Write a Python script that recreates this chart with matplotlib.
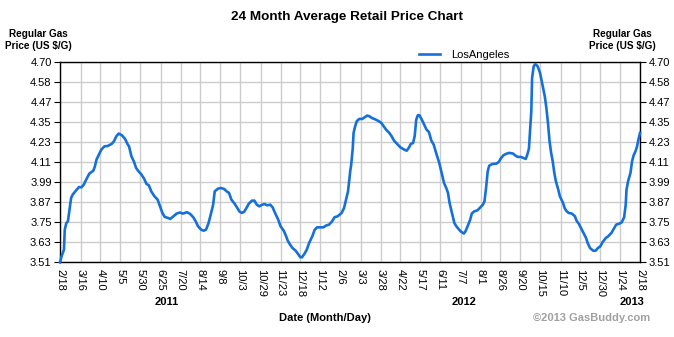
import matplotlib
matplotlib.use("Agg")
import matplotlib.pyplot as plt
import pandas as pd

# Average regular gas price, Los Angeles (days since 2011-02-18, $/gal)
days = [0, 2, 5, 6, 8, 10, 12, 14, 16, 21,
        24, 27, 30, 33, 37, 42, 44, 46, 49, 52,
        56, 60, 65, 68, 71, 74, 78, 82, 85, 87,
        90, 93, 96, 99, 102, 106, 109, 112, 115, 119,
        123, 126, 129, 132, 136, 139, 143, 147, 151, 155,
        160, 164, 168, 171, 174, 178, 181, 184, 187, 190,
        193, 195, 199, 203, 207, 210, 213, 216, 220, 223,
        226, 229, 232, 235, 238, 242, 245, 248, 251, 255,
        258, 261, 265, 268, 271, 275, 278, 282, 285, 287,
        290, 293, 297, 300, 303, 305, 308, 311, 314, 318,
        321, 324, 328, 332, 335, 339, 343, 346, 350, 355,
        358, 360, 363, 365, 366, 367, 369, 370, 372, 374,
        377, 381, 384, 387, 390, 393, 398, 402, 405, 408,
        411, 415, 418, 421, 425, 429, 434, 437, 440, 442,
        445, 447, 449, 451, 453, 456, 459, 462, 465, 468,
        471, 474, 478, 481, 484, 487, 489, 491, 493, 495,
        497, 499, 502, 505, 509, 511, 514, 517, 519, 522,
        526, 529, 533, 535, 537, 539, 541, 545, 550, 553,
        556, 559, 562, 566, 571, 574, 577, 581, 584, 587,
        589, 591, 594, 595, 597, 599, 602, 605, 608, 611,
        613, 615, 617, 619, 621, 623, 625, 628, 630, 632,
        634, 636, 638, 641, 645, 649, 651, 654, 657, 660,
        663, 665, 668, 672, 675, 678, 681, 684, 688, 691,
        695, 698, 701, 705, 708, 711, 713, 714, 716, 719,
        721, 723, 725, 727, 729, 731]
prices = [3.510, 3.546, 3.585, 3.704, 3.744, 3.754, 3.823, 3.893, 3.913, 3.942,
          3.958, 3.956, 3.972, 4.002, 4.038, 4.055, 4.081, 4.121, 4.151, 4.180,
          4.200, 4.202, 4.214, 4.230, 4.260, 4.276, 4.266, 4.244, 4.214, 4.200,
          4.141, 4.111, 4.071, 4.051, 4.036, 4.008, 3.976, 3.968, 3.932, 3.903,
          3.883, 3.843, 3.804, 3.780, 3.774, 3.768, 3.784, 3.800, 3.806, 3.800,
          3.808, 3.798, 3.778, 3.754, 3.724, 3.704, 3.698, 3.704, 3.740, 3.794,
          3.853, 3.932, 3.948, 3.952, 3.946, 3.932, 3.923, 3.883, 3.859, 3.837,
          3.813, 3.804, 3.810, 3.833, 3.859, 3.877, 3.877, 3.853, 3.843, 3.853,
          3.857, 3.849, 3.853, 3.837, 3.804, 3.764, 3.724, 3.698, 3.665, 3.639,
          3.615, 3.595, 3.579, 3.560, 3.540, 3.540, 3.560, 3.585, 3.625, 3.665,
          3.704, 3.718, 3.718, 3.718, 3.728, 3.734, 3.754, 3.778, 3.784, 3.804,
          3.833, 3.873, 3.932, 4.020, 4.060, 4.090, 4.190, 4.280, 4.319, 4.349,
          4.363, 4.363, 4.373, 4.383, 4.379, 4.369, 4.359, 4.349, 4.339, 4.319,
          4.299, 4.280, 4.260, 4.234, 4.214, 4.194, 4.180, 4.174, 4.194, 4.214,
          4.220, 4.260, 4.359, 4.385, 4.385, 4.359, 4.329, 4.299, 4.285, 4.234,
          4.210, 4.161, 4.101, 4.042, 3.982, 3.950, 3.923, 3.863, 3.823, 3.784,
          3.744, 3.728, 3.710, 3.694, 3.681, 3.694, 3.728, 3.764, 3.800, 3.813,
          3.819, 3.833, 3.853, 3.873, 3.952, 4.051, 4.085, 4.095, 4.097, 4.107,
          4.131, 4.147, 4.155, 4.161, 4.157, 4.145, 4.137, 4.137, 4.131, 4.125,
          4.151, 4.186, 4.409, 4.607, 4.676, 4.690, 4.676, 4.637, 4.567, 4.498,
          4.428, 4.339, 4.230, 4.161, 4.111, 4.042, 3.992, 3.942, 3.903, 3.883,
          3.863, 3.833, 3.817, 3.804, 3.800, 3.784, 3.758, 3.738, 3.710, 3.681,
          3.655, 3.625, 3.595, 3.579, 3.579, 3.595, 3.605, 3.631, 3.655, 3.665,
          3.685, 3.710, 3.734, 3.740, 3.748, 3.778, 3.853, 3.942, 3.992, 4.042,
          4.111, 4.147, 4.167, 4.194, 4.240, 4.280]

start_date = "2011-02-18"
end_date = "2013-02-18"
tick_dates = ["2011-02-18", "2011-03-16", "2011-04-10", "2011-05-05", "2011-05-30",
              "2011-06-25", "2011-07-20", "2011-08-14", "2011-09-08", "2011-10-03",
              "2011-10-29", "2011-11-23", "2011-12-18", "2012-01-12", "2012-02-06",
              "2012-03-03", "2012-03-28", "2012-04-22", "2012-05-17", "2012-06-11",
              "2012-07-07", "2012-08-01", "2012-08-26", "2012-09-20", "2012-10-15",
              "2012-11-10", "2012-12-05", "2012-12-30", "2013-01-24", "2013-02-18"]
y_ticks = [3.51, 3.63, 3.75, 3.87, 3.99, 4.11, 4.23, 4.35, 4.47, 4.58, 4.70]
series_name = "LosAngeles"

plt.rcParams["font.family"] = ["Liberation Sans", "DejaVu Sans"]

W, H = 674, 337
fig = plt.figure(figsize=(W / 100, H / 100), dpi=100)
fig.patch.set_facecolor("white")

x0, x1, ytop, ybot = 60, 640, 62.3, 262.3
ax = fig.add_axes([x0 / W, 1 - ybot / H, (x1 - x0) / W, (ybot - ytop) / H])

start = pd.Timestamp(start_date)
dates = [start + pd.Timedelta(days=d) for d in days]
line_color = "#1570dc"
ax.plot(dates, prices, color=line_color, lw=1.9, solid_joinstyle="round", zorder=3,
        label=series_name, clip_on=False)

ax.set_xlim(start, pd.Timestamp(end_date))
ymin, ymax = y_ticks[0], y_ticks[-1]
ax.set_ylim(ymin, ymax)

# evenly spaced horizontal gridlines, labelled with the rounded values
ypos = [ymin + (ymax - ymin) * i / (len(y_ticks) - 1) for i in range(len(y_ticks))]
ax.set_yticks(ypos)
ax.set_yticklabels([f"{v:.2f}" for v in y_ticks])
ax.tick_params(axis="y", which="both", direction="out", length=4, width=0.8,
               labelsize=8, pad=2, left=True, right=True, labelleft=True,
               labelright=True, colors="black")

tick_ts = [pd.Timestamp(t) for t in tick_dates]
ax.set_xticks(tick_ts)
ax.set_xticklabels([f"{t.month}/{t.day}" for t in tick_ts], rotation=270,
                   fontsize=8, va="top", ha="center")
ax.tick_params(axis="x", length=0, pad=5)

ax.grid(True, color="#cccccc", lw=1.0, zorder=0)
ax.set_axisbelow(True)
for s in ax.spines.values():
    s.set_color("black")
    s.set_linewidth(1.0)

# year labels under the dates
for label, xp in [("2011", 167), ("2012", 464), ("2013", 632)]:
    fig.text(xp / W, 1 - 302 / H, label, ha="center", va="center",
             fontsize=8, fontweight="bold")

fig.text(325 / W, 1 - 318 / H, "Date (Month/Day)", ha="center", va="center",
         fontsize=8, fontweight="bold")
fig.text(592 / W, 1 - 318 / H, "\u00a92013 GasBuddy.com", ha="center", va="center",
         fontsize=8, fontweight="bold", color="#a0a0a0")

fig.text(347 / W, 1 - 17 / H, "24 Month Average Retail Price Chart", ha="center",
         va="center", fontsize=9.7, fontweight="bold")

for xp in (38, 622):
    fig.text(xp / W, 1 - 40 / H, "Regular Gas\nPrice (US $/G)", ha="center",
             va="center", fontsize=7.2, fontweight="bold", linespacing=1.3)

leg = ax.legend(loc="lower left", bbox_to_anchor=(419 / W, 1 - 60 / H),
                bbox_transform=fig.transFigure, frameon=False, fontsize=8,
                handlelength=1.9, handletextpad=1.0, borderpad=0, borderaxespad=0)

fig.savefig("out.png", dpi=100, facecolor="white")
